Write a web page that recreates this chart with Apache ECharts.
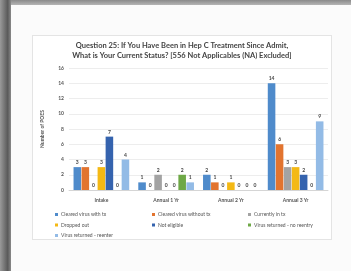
<!DOCTYPE html>
<html>
<head>
    <meta charset="UTF-8">
    <title>Hep C Treatment Status</title>
    <style>
        html, body { margin: 0; padding: 0; }
        body { width: 351px; height: 271px; background: #fbfbfb; position: relative; overflow: hidden; }
        #topband { position: absolute; left: 0; top: 0; width: 351px; height: 5px; background: linear-gradient(#8a8a8a, #b5b5b5); }
        #leftband { position: absolute; left: 0; top: 0; width: 11px; height: 271px; background: linear-gradient(90deg, #9a9a9a, #5a5a5a 70%, #8a8a8a); }
        #main { position: absolute; left: 32px; top: 35px; width: 300px; height: 205px; background: #fff; border: 1px solid #e4e4e4; box-sizing: border-box; filter: blur(0.3px); }
    </style>
</head>
<body>
    <div id="topband"></div>
    <div id="leftband"></div>
    <div id="main"></div>
    <script src="https://cdn.jsdelivr.net/npm/echarts@6/dist/echarts.min.js"></script>
    <script type="text/javascript">
        // categories and series
        var categories = ['Intake', 'Annual 1 Yr', 'Annual 2 Yr', 'Annual 3 Yr'];
        var seriesNames = [
            'Cleared virus with tx',
            'Cleared virus without tx',
            'Currently in tx',
            'Dropped out',
            'Not eligible',
            'Virus returned - no reentry',
            'Virus returned - reenter'
        ];
        var clearedWithTx = [3, 1, 2, 14];
        var clearedWithoutTx = [3, 0, 1, 6];
        var currentlyInTx = [0, 2, 0, 3];
        var droppedOut = [3, 0, 1, 3];
        var notEligible = [7, 0, 0, 2];
        var returnedNoReentry = [0, 2, 0, 0];
        var returnedReenter = [4, 1, 0, 9];
        var allValues = [clearedWithTx, clearedWithoutTx, currentlyInTx, droppedOut,
                         notEligible, returnedNoReentry, returnedReenter];
        var colors = ['#4f8bcb', '#e2742f', '#a3a3a3', '#f4b915', '#3563ae', '#6ea846', '#93bbe6'];

        var myChart = echarts.init(document.getElementById('main'));

        var font = 'Lato, "Open Sans", sans-serif';
        var series = seriesNames.map(function (name, i) {
            return {
                name: name,
                type: 'bar',
                data: allValues[i],
                barGap: '6%',
                barCategoryGap: '14%',
                itemStyle: { color: colors[i] },
                label: {
                    show: true,
                    position: 'top',
                    distance: 2,
                    fontSize: 5,
                    fontWeight: 'bold',
                    color: '#444',
                    fontFamily: font
                }
            };
        });

        // legend laid out in three columns like the original
        function legendCol(left, names) {
            return {
                left: left,
                top: 176,
                height: 40,
                orient: 'vertical',
                data: names,
                icon: 'rect',
                itemWidth: 3,
                itemHeight: 3,
                itemGap: 5.5,
                padding: 0,
                textStyle: { fontSize: 5, color: '#555', fontFamily: font, padding: [0, 0, 0, -2] }
            };
        }

        var option = {
            animation: false,
            textStyle: { fontFamily: font },
            title: {
                text: 'Question 25: If You Have Been in Hep C Treatment Since Admit,\nWhat is Your Current Status? [556 Not Applicables (NA) Excluded]',
                left: 'center',
                top: 4,
                padding: 0,
                textStyle: { fontSize: 7.5, fontWeight: 'bold', color: '#444', lineHeight: 10.5, fontFamily: font }
            },
            legend: [
                legendCol(22, [seriesNames[0], seriesNames[3], seriesNames[6]]),
                legendCol(119, [seriesNames[1], seriesNames[4]]),
                legendCol(215, [seriesNames[2], seriesNames[5]])
            ],
            grid: { left: 36, right: 3, top: 32, bottom: 49, outerBoundsMode: 'none' },
            xAxis: {
                type: 'category',
                data: categories,
                axisTick: { show: false },
                axisLine: { lineStyle: { color: '#cfcfcf', width: 0.8 } },
                axisLabel: { fontSize: 5, fontWeight: 'bold', color: '#555', margin: 8 }
            },
            yAxis: {
                type: 'value',
                min: 0,
                max: 16,
                interval: 2,
                name: 'Number of POES',
                nameLocation: 'middle',
                nameGap: 24,
                nameTextStyle: { fontSize: 5, fontWeight: 'bold', color: '#555' },
                axisLabel: { fontSize: 5, fontWeight: 'bold', color: '#555', margin: 5 },
                splitLine: { lineStyle: { color: '#e8e8e8', width: 0.8 } }
            },
            series: series
        };

        myChart.setOption(option);
    </script>
</body>
</html>
